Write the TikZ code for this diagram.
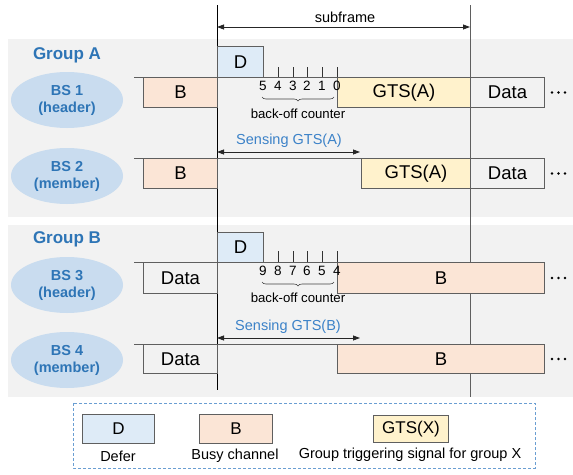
\documentclass[tikz,border=0pt]{standalone}
\usepackage{fontspec}
\setmainfont{Liberation Sans}
\usetikzlibrary{arrows.meta,decorations.pathreplacing,shapes.geometric}

\definecolor{panel}{HTML}{F2F2F2}
\definecolor{busy}{HTML}{FBE5D6}
\definecolor{defer}{HTML}{DEEBF7}
\definecolor{gts}{HTML}{FFF2CC}
\definecolor{bsfill}{HTML}{C9DCEF}
\definecolor{grpblue}{HTML}{2E75B6}
\definecolor{senseblue}{HTML}{3C82C8}
\definecolor{edge}{HTML}{5F5F5F}
\definecolor{legendline}{HTML}{6A9ED2}

\newcommand\fsz[2]{\fontsize{#1}{#2}\selectfont}

\begin{document}
\begin{tikzpicture}[x=1pt,y=-1pt,
  slot/.style={draw=edge, line width=1pt, minimum height=30pt, inner sep=0pt,
    anchor=north west, font=\fsz{18.5}{20}},
  bs/.style={ellipse, fill=bsfill, minimum width=112pt, minimum height=56pt,
    inner sep=0pt, align=center, text=grpblue, font=\bfseries\fsz{14.5}{17}},
  grp/.style={text=grpblue, font=\bfseries\fsz{17}{19}},
  tl/.style={draw=edge, line width=1pt},
  tick/.style={draw=black!80, line width=0.8pt},
  num/.style={font=\fsz{13.5}{15}, inner sep=0pt},
  note/.style={font=\fsz{13.2}{15}, inner sep=0pt},
  sense/.style={text=senseblue, font=\fsz{14.5}{16}, inner sep=0pt},
  span/.style={draw=black!85, line width=0.8pt,
    {Triangle[length=7pt,width=5pt]}-{Triangle[length=7pt,width=5pt]}},
  counterbrace/.style={draw=black!75, line width=0.6pt, decorate,
    decoration={brace, amplitude=4pt, mirror}},
  lgbox/.style={draw=edge, line width=1pt, inner sep=0pt, anchor=north west,
    font=\fsz{17}{19}},
  lgtext/.style={font=\fsz{14.5}{16}, inner sep=0pt},
  dots/.style={fill=black}
]
\useasboundingbox (0,0) rectangle (573,474);

% group panels
\fill[panel] (8,39) rectangle (573,217);
\fill[panel] (8,225) rectangle (573,397);

% subframe boundaries
\coordinate (vL0) at (217,5);
\coordinate (vL1) at (217,390);
\coordinate (vR0) at (470,5);
\coordinate (vR1) at (470,397);
\draw[black, line width=1pt] (vL0) -- (vL1);
\draw[edge, line width=1pt] (vR0) -- (vR1);

% subframe span
\coordinate (sfL) at (217,27);
\coordinate (sfR) at (470,27);
\draw[span] (sfL) -- (sfR);
\node[font=\fsz{14.5}{16}, inner sep=0pt] (sflabel) at (345,17) {subframe};

% group labels and stations
\node[grp] (grpA) at (67,55) {Group A};
\node[grp] (grpB) at (67,239) {Group B};
\node[bs] (bs1) at (67,100) {BS 1\\(header)};
\node[bs] (bs2) at (67,176) {BS 2\\(member)};
\node[bs] (bs3) at (67,285) {BS 3\\(header)};
\node[bs] (bs4) at (67,360) {BS 4\\(member)};

% ---- BS 1 ----
\coordinate (t1) at (134,77);
\node[slot, fill=busy, minimum width=74pt] (b1) at (143,77) {B};
\node[slot, fill=defer, minimum width=46pt, minimum height=31pt] (d1) at (217,46) {D};
\node[slot, fill=gts, minimum width=133pt] (g1) at (337,77) {GTS(A)};
\node[slot, minimum width=74pt] (data1) at (470,77) {Data};
\draw[tl] (t1) -- (data1.north east);
\foreach \x in {278,293,307,322} \draw[tick] (\x,67) -- (\x,77);
\coordinate (k1) at (337,67);
\draw[tick] (k1) -- (g1.north west);
\foreach \x/\n in {263/5,278/4,293/3,307/2,322/1,337/0}
  \node[num] (c1n\n) at (\x,86) {\n};
\coordinate (br1a) at (262,97);
\coordinate (br1b) at (334,97);
\draw[counterbrace] (br1a) -- (br1b);
\node[note] (bo1) at (298,114) {back-off counter};
\foreach \dx in {7,13.5,20} \fill[dots] ([xshift=\dx pt]data1.east) circle (1.4pt);

% ---- BS 2 ----
\coordinate (t2) at (134,158);
\node[slot, fill=busy, minimum width=74pt] (b2) at (143,158) {B};
\node[slot, fill=gts, minimum width=109pt] (g2) at (361,158) {GTS(A)};
\node[slot, minimum width=74pt] (data2) at (470,158) {Data};
\draw[tl] (t2) -- (data2.north east);
\coordinate (s2L) at (217,152);
\coordinate (s2R) at (360,152);
\draw[span] (s2L) -- (s2R);
\node[sense] (s2lab) at (289,141) {Sensing GTS(A)};
\foreach \dx in {7,13.5,20} \fill[dots] ([xshift=\dx pt]data2.east) circle (1.4pt);

% ---- BS 3 ----
\coordinate (t3) at (134,262);
\node[slot, minimum width=74pt, minimum height=31pt] (data3) at (143,262) {Data};
\node[slot, fill=defer, minimum width=46pt] (d3) at (217,232) {D};
\node[slot, fill=busy, minimum width=207pt, minimum height=31pt] (b3) at (337,262) {B};
\draw[tl] (t3) -- (b3.north east);
\foreach \x in {278,293,307,322} \draw[tick] (\x,251) -- (\x,262);
\coordinate (k3) at (337,251);
\draw[tick] (k3) -- (b3.north west);
\foreach \x/\n in {263/9,278/8,293/7,307/6,322/5,337/4}
  \node[num] (c3n\n) at (\x,271) {\n};
\coordinate (br3a) at (262,282);
\coordinate (br3b) at (334,282);
\draw[counterbrace] (br3a) -- (br3b);
\node[note] (bo3) at (298,298) {back-off counter};
\foreach \dx in {7,13.5,20} \fill[dots] ([xshift=\dx pt]b3.east) circle (1.4pt);

% ---- BS 4 ----
\coordinate (t4) at (134,344);
\node[slot, minimum width=74pt, minimum height=29pt] (data4) at (143,344) {Data};
\node[slot, fill=busy, minimum width=207pt, minimum height=29pt] (b4) at (337,344) {B};
\draw[tl] (t4) -- (b4.north east);
\coordinate (s4L) at (217,338);
\coordinate (s4R) at (360,338);
\draw[span] (s4L) -- (s4R);
\node[sense] (s4lab) at (288,327) {Sensing GTS(B)};
\foreach \dx in {7,13.5,20} \fill[dots] ([xshift=\dx pt]b4.east) circle (1.4pt);

% ---- legend ----
\draw[legendline, line width=0.8pt, dash pattern=on 3pt off 2pt] (73,403) rectangle (535,468);
\node[lgbox, fill=defer, minimum width=72pt, minimum height=29pt] (lgD) at (82,414) {D};
\node[lgbox, fill=busy, minimum width=73pt, minimum height=29pt] (lgB) at (199,414) {B};
\node[lgbox, fill=gts, minimum width=75pt, minimum height=27pt] (lgG) at (373,415) {GTS(X)};
\node[lgtext] (lgDt) at (118,456) {Defer};
\node[lgtext] (lgBt) at (235,456) {Busy channel};
\node[lgtext] (lgGt) at (410,455) {Group triggering signal for group X};
\end{tikzpicture}
\end{document}
